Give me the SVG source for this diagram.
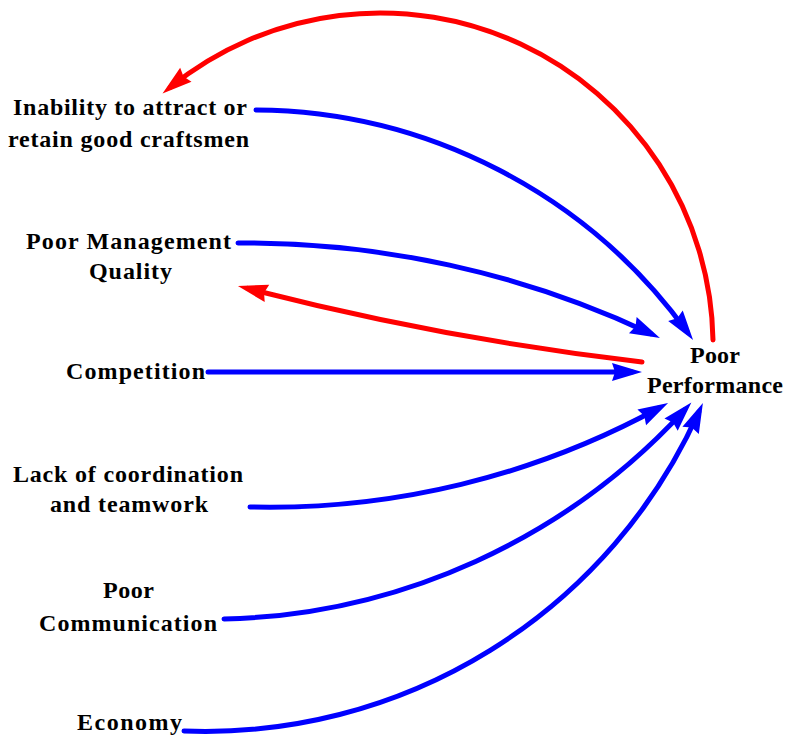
<svg xmlns="http://www.w3.org/2000/svg" width="787" height="738" viewBox="0 0 787 738">
<defs>
<style>
.lbl{font-family:"Liberation Serif","Times New Roman",serif;font-weight:bold;font-size:24px;fill:#000;text-anchor:middle}
.c{fill:none;stroke-width:5;stroke-linecap:round}
.pos{stroke:#0000FF;marker-end:url(#ab)}
.neg{stroke:#FF0000;marker-end:url(#ar)}
</style>
<marker id="ab" markerUnits="userSpaceOnUse" markerWidth="30" markerHeight="18" refX="20" refY="9" orient="auto" overflow="visible">
<path d="M0,0 L30,9 L0,18 L3,9 Z" fill="#0000FF"/>
</marker>
<marker id="ar" markerUnits="userSpaceOnUse" markerWidth="30" markerHeight="18" refX="20" refY="9" orient="auto" overflow="visible">
<path d="M0,0 L30,9 L0,18 L3,9 Z" fill="#FF0000"/>
</marker>
</defs>
<rect width="787" height="738" fill="#FFFFFF"/>
<g id="connectors">
<path class="c neg" d="M713,340 A333,333 0 0 0 170.3,87.3"/>
<path class="c pos" d="M256,110 A537,537 0 0 1 687.2,331.9"/>
<path class="c pos" d="M238,243 A951,951 0 0 1 650.9,333.7"/>
<path class="c neg" d="M642,362 A2941,2941 0 0 1 247.6,288.4"/>
<path class="c pos" d="M208,372 H632"/>
<path class="c pos" d="M250,507 A813,813 0 0 0 659.3,407.8"/>
<path class="c pos" d="M224,619 A646,646 0 0 0 684.6,409.9"/>
<path class="c pos" d="M184,731 A541,541 0 0 0 698.8,412.1"/>
</g>
<g id="inability">
<text class="lbl" x="130" y="115" textLength="234" lengthAdjust="spacing">Inability to attract or</text>
<text class="lbl" x="128.5" y="147" textLength="241" lengthAdjust="spacing">retain good craftsmen</text>
</g>
<g id="poor-management-quality">
<text class="lbl" x="128.5" y="249" textLength="205" lengthAdjust="spacing">Poor Management</text>
<text class="lbl" x="130.5" y="279" textLength="83" lengthAdjust="spacing">Quality</text>
</g>
<g id="competition">
<text class="lbl" x="135.5" y="379" textLength="139" lengthAdjust="spacing">Competition</text>
</g>
<g id="lack-of-coordination">
<text class="lbl" x="128" y="482" textLength="230" lengthAdjust="spacing">Lack of coordination</text>
<text class="lbl" x="129" y="512" textLength="158" lengthAdjust="spacing">and teamwork</text>
</g>
<g id="poor-communication">
<text class="lbl" x="128.5" y="598" textLength="51" lengthAdjust="spacing">Poor</text>
<text class="lbl" x="128" y="631" textLength="178" lengthAdjust="spacing">Communication</text>
</g>
<g id="economy">
<text class="lbl" x="129.5" y="730" textLength="105" lengthAdjust="spacing">Economy</text>
</g>
<g id="poor-performance">
<text class="lbl" x="715" y="363" textLength="50" lengthAdjust="spacing">Poor</text>
<text class="lbl" x="715" y="393" textLength="136" lengthAdjust="spacing">Performance</text>
</g>
</svg>
